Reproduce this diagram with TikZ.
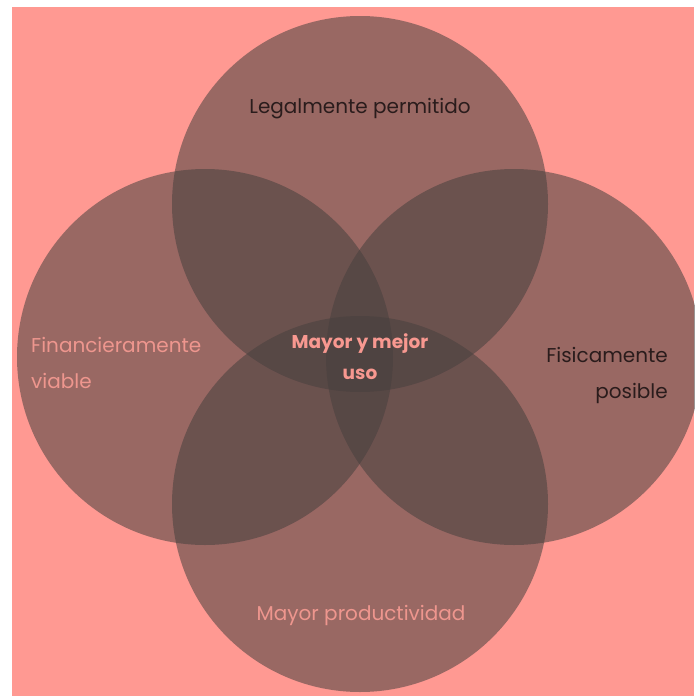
\documentclass[tikz,border=0pt]{standalone}
\usepackage{fontspec}
\setmainfont{Poppins}
\usetikzlibrary{positioning}
\definecolor{cbg}{RGB}{255,153,146}
\definecolor{cvenn}{RGB}{71,64,62}
\definecolor{clight}{RGB}{238,150,142}
\definecolor{cdark}{RGB}{42,28,28}
\definecolor{ccentre}{RGB}{248,152,144}

\begin{document}
\begin{tikzpicture}[x=1pt, y=-1pt,
  venn/.style={circle, fill=cvenn, fill opacity=0.55, minimum size=376pt, inner sep=0pt},
  tag/.style={inner sep=0pt, font=\fontsize{20}{36}\selectfont}]
  \useasboundingbox (0, 0) rectangle (694, 696);
  \fill [cbg] (12, 7) rectangle (694, 696);

  % the four sets
  \node [venn] (legal) at (360, 204) {};
  \node [venn] (finance) at (205, 357) {};
  \node [venn] (physical) at (514, 357) {};
  \node [venn] (product) at (360, 504) {};

  % labels
  \node [tag, text=cdark] (legaltext) at (360, 109) {Legalmente permitido};
  \node [tag, text=clight, align=left, anchor=west] (financetext) at (31, 363) {Financieramente\\viable};
  \node [tag, text=cdark, align=right, anchor=east] (physicaltext) at (668, 375) {Fisicamente\\posible};
  \node [tag, text=clight] (producttext) at (361, 615) {Mayor productividad};
  \node [inner sep=0pt, text=ccentre, align=center, font=\fontsize{18.5}{31}\selectfont\bfseries] (besttext) at (360, 357) {Mayor y mejor\\uso};
\end{tikzpicture}
\end{document}
